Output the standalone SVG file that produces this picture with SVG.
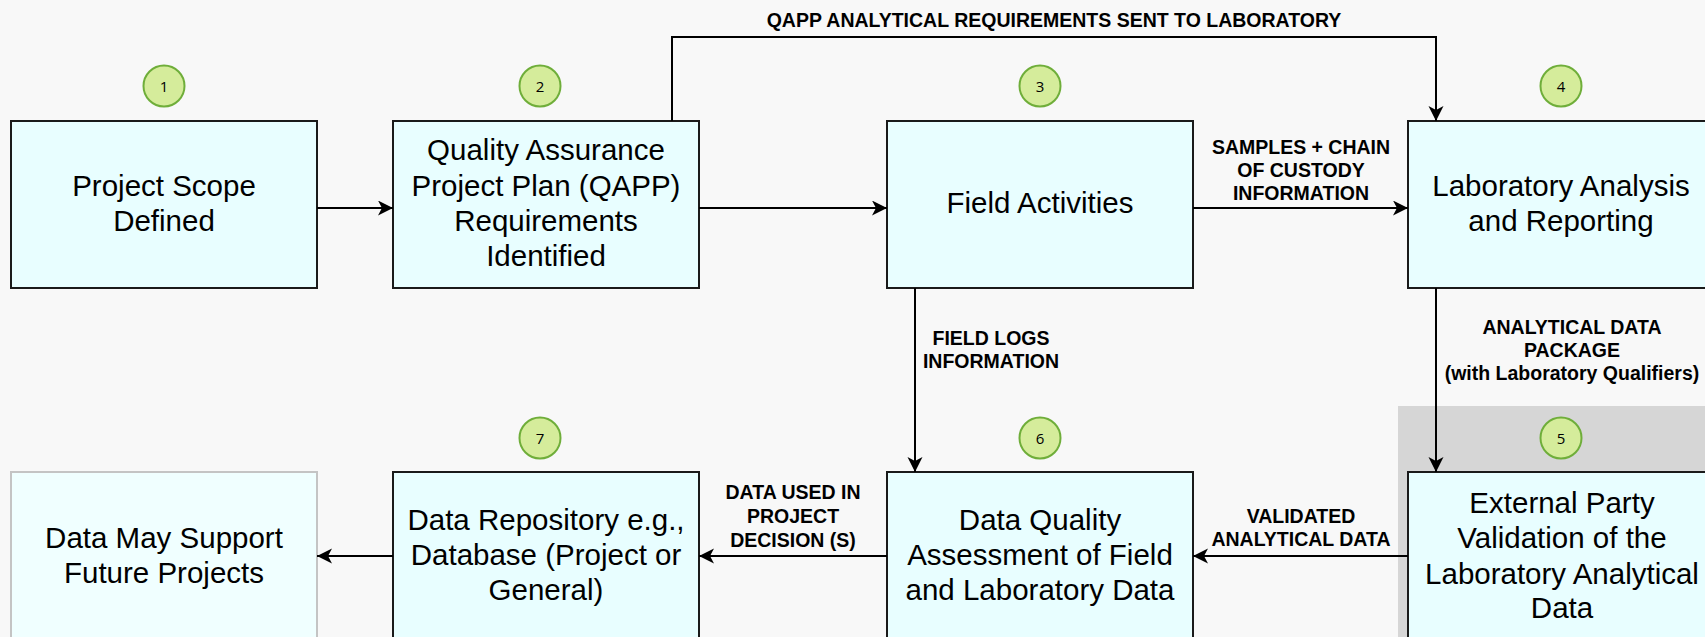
<svg xmlns="http://www.w3.org/2000/svg" width="1705" height="637" viewBox="0 0 1705 637">
<defs>
<marker id="arr" markerWidth="16" markerHeight="16" refX="15" refY="7.5" orient="auto" markerUnits="userSpaceOnUse">
<path d="M0,0 L15,7.5 L0,15 L4,7.5 Z" fill="#000"/>
</marker>
</defs>
<style>
.box{fill:#e8feff;stroke:#1a1a1a;stroke-width:2}
.boxg{fill:#f0ffff;stroke:#c4c4c4;stroke-width:2}
.bt{font-family:"Liberation Sans",Arial,sans-serif;font-size:29.5px;fill:#000;text-anchor:middle}
.lbl{font-family:"Liberation Sans",Arial,sans-serif;font-size:19.5px;font-weight:bold;fill:#000;text-anchor:middle}
.num{fill:#d5ec9b;stroke:#6fae3a;stroke-width:2}
.nt{font-family:"Open Sans","Liberation Sans",sans-serif;font-size:15px;fill:#000;text-anchor:middle}
.c{fill:none;stroke:#000;stroke-width:2;marker-end:url(#arr)}
</style>
<rect x="0" y="0" width="1705" height="637" fill="#f8f8f8"/>
<rect x="1398" y="406" width="307" height="231" fill="#d6d6d6"/>

<g id="n1">
<rect class="box" x="11" y="121" width="306" height="167"/>
<text class="bt" x="164" y="196">Project Scope</text>
<text class="bt" x="164" y="231">Defined</text>
<circle class="num" cx="164" cy="86" r="20.5"/>
<text class="nt" x="164" y="91.5">1</text>
</g>
<g id="n2">
<rect class="box" x="393" y="121" width="306" height="167"/>
<text class="bt" x="546" y="160">Quality Assurance</text>
<text class="bt" x="546" y="196">Project Plan (QAPP)</text>
<text class="bt" x="546" y="231">Requirements</text>
<text class="bt" x="546" y="266">Identified</text>
<circle class="num" cx="540" cy="86" r="20.5"/>
<text class="nt" x="540" y="91.5">2</text>
</g>
<g id="n3">
<rect class="box" x="887" y="121" width="306" height="167"/>
<text class="bt" x="1040" y="213">Field Activities</text>
<circle class="num" cx="1040" cy="86" r="20.5"/>
<text class="nt" x="1040" y="91.5">3</text>
</g>
<g id="n4">
<rect class="box" x="1408" y="121" width="306" height="167"/>
<text class="bt" x="1561" y="196">Laboratory Analysis</text>
<text class="bt" x="1561" y="231">and Reporting</text>
<circle class="num" cx="1561" cy="86" r="20.5"/>
<text class="nt" x="1561" y="91.5">4</text>
</g>
<g id="n5">
<rect class="box" x="1408" y="472" width="306" height="180"/>
<text class="bt" x="1562" y="513">External Party</text>
<text class="bt" x="1562" y="548">Validation of the</text>
<text class="bt" x="1562" y="584">Laboratory Analytical</text>
<text class="bt" x="1562" y="618">Data</text>
<circle class="num" cx="1561" cy="438" r="20.5"/>
<text class="nt" x="1561" y="443.5">5</text>
</g>
<g id="n6">
<rect class="box" x="887" y="472" width="306" height="180"/>
<text class="bt" x="1040" y="530">Data Quality</text>
<text class="bt" x="1040" y="565">Assessment of Field</text>
<text class="bt" x="1040" y="600">and Laboratory Data</text>
<circle class="num" cx="1040" cy="438" r="20.5"/>
<text class="nt" x="1040" y="443.5">6</text>
</g>
<g id="n7">
<rect class="box" x="393" y="472" width="306" height="180"/>
<text class="bt" x="546" y="530">Data Repository e.g.,</text>
<text class="bt" x="546" y="565">Database (Project or</text>
<text class="bt" x="546" y="600">General)</text>
<circle class="num" cx="540" cy="438" r="20.5"/>
<text class="nt" x="540" y="443.5">7</text>
</g>
<g id="n8">
<rect class="boxg" x="11" y="472" width="306" height="180"/>
<text class="bt" x="164" y="548">Data May Support</text>
<text class="bt" x="164" y="583">Future Projects</text>
</g>

<g id="connectors">
<path class="c" d="M317,208 H393"/>
<path class="c" d="M699,208 H887"/>
<path class="c" d="M1193,208 H1408"/>
<path class="c" d="M672,121 V37 H1436 V121"/>
<path class="c" d="M915,288 V472"/>
<path class="c" d="M1436,288 V472"/>
<path class="c" d="M1408,556 H1193"/>
<path class="c" d="M887,556 H699"/>
<path class="c" d="M393,556 H317"/>
<text class="lbl" x="1054" y="27">QAPP ANALYTICAL REQUIREMENTS SENT TO LABORATORY</text>
<text class="lbl" x="1301" y="154">SAMPLES + CHAIN</text>
<text class="lbl" x="1301" y="177">OF CUSTODY</text>
<text class="lbl" x="1301" y="200">INFORMATION</text>
<text class="lbl" x="991" y="345">FIELD LOGS</text>
<text class="lbl" x="991" y="368">INFORMATION</text>
<text class="lbl" x="1572" y="334">ANALYTICAL DATA</text>
<text class="lbl" x="1572" y="357">PACKAGE</text>
<text class="lbl" x="1572" y="380">(with Laboratory Qualifiers)</text>
<text class="lbl" x="1301" y="523">VALIDATED</text>
<text class="lbl" x="1301" y="546">ANALYTICAL DATA</text>
<text class="lbl" x="793" y="499">DATA USED IN</text>
<text class="lbl" x="793" y="523">PROJECT</text>
<text class="lbl" x="793" y="547">DECISION (S)</text>
</g>
</svg>
